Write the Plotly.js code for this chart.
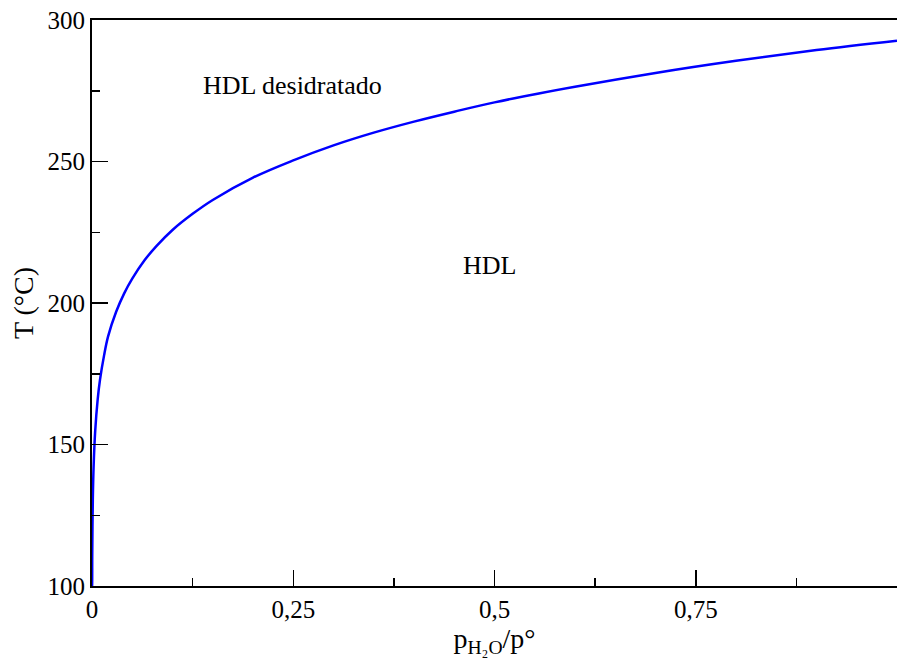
<!DOCTYPE html>
<html>
<head>
<meta charset="utf-8">
<script src="https://cdn.plot.ly/plotly-3.0.1.min.js"></script>
<style>html,body{margin:0;padding:0;background:#fff;}#chart{width:897px;height:660px;}</style>
</head>
<body>
<div id="chart"></div>
<script>
// Phase boundary: relative water pressure vs temperature (°C)
var pressure = [0, 0.00015, 0.0003, 0.001, 0.002, 0.004, 0.007, 0.01, 0.015, 0.02, 0.03, 0.04, 0.05, 0.065, 0.08, 0.1, 0.125, 0.15, 0.2, 0.25, 0.3, 0.35, 0.4, 0.45, 0.5, 0.6, 0.7, 0.8, 0.9, 1.0];
var temperature = [100, 100.5, 111, 130.3, 142.2, 154.9, 165.8, 173.0, 181.5, 188.2, 196.9, 203.4, 208.6, 215.0, 220.1, 225.8, 231.5, 236.4, 244.3, 250.4, 255.7, 260.2, 264.1, 267.6, 270.9, 276.4, 281.3, 285.6, 289.4, 292.7];

var xTickVals = [0, 0.25, 0.5, 0.75];
var xTickText = ['0', '0,25', '0,5', '0,75'];
var xMinorVals = [0.125, 0.375, 0.625, 0.875];
var yTickVals = [100, 150, 200, 250, 300];
var yMinorVals = [125, 175, 225, 275];

var regionLabels = ['HDL desidratado', 'HDL'];
var regionX = [0.2496, 0.494];
var regionY = [276.7, 213.4];

var font = '"Liberation Serif", "Times New Roman", Times, serif';

var trace = {
  x: pressure, y: temperature, type: 'scatter', mode: 'lines',
  line: {color: '#0000ff', width: 2.5, shape: 'spline', smoothing: 1},
  hoverinfo: 'skip'
};

var annotations = regionLabels.map(function (t, i) {
  return {x: regionX[i], y: regionY[i], xref: 'x', yref: 'y', text: t, showarrow: false,
    font: {family: font, size: 26, color: '#000'}};
});

var layout = {
  width: 897, height: 660,
  margin: {l: 92, r: 0, t: 20, b: 74},
  paper_bgcolor: '#fff', plot_bgcolor: '#fff',
  showlegend: false,
  font: {family: font, color: '#000'},
  xaxis: {
    range: [0, 1], showgrid: false, zeroline: false,
    showline: true, mirror: true, linecolor: '#000', linewidth: 2,
    tickmode: 'array', tickvals: xTickVals, ticktext: xTickText,
    ticks: 'inside', ticklen: 16, tickwidth: 1.5, tickcolor: '#000',
    tickfont: {family: font, size: 25, color: '#000'},
    minor: {tickmode: 'array', tickvals: xMinorVals, ticks: 'inside', ticklen: 8, tickwidth: 1.5, tickcolor: '#000', showgrid: false},
    title: {text: 'p<sub>H₂O</sub>/p°', font: {family: font, size: 28, color: '#000'}, standoff: 6}
  },
  yaxis: {
    range: [100, 300], showgrid: false, zeroline: false,
    showline: true, linecolor: '#000', linewidth: 2,
    tickmode: 'array', tickvals: yTickVals,
    ticks: 'inside', ticklen: 16, tickwidth: 1.5, tickcolor: '#000',
    tickfont: {family: font, size: 25, color: '#000'},
    minor: {tickmode: 'array', tickvals: yMinorVals, ticks: 'inside', ticklen: 8, tickwidth: 1.5, tickcolor: '#000', showgrid: false},
    title: {text: 'T (°C)', font: {family: font, size: 28, color: '#000'}, standoff: 6}
  },
  annotations: annotations
};

Plotly.newPlot('chart', [trace], layout, {displayModeBar: false, staticPlot: true});
</script>
</body>
</html>
